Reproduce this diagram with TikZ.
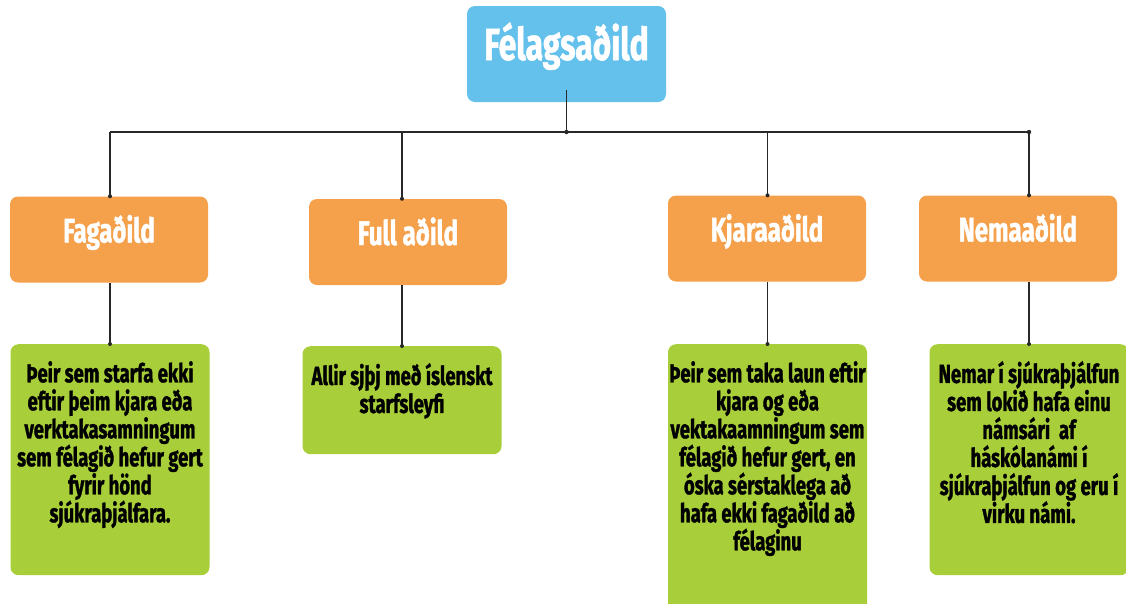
\documentclass[tikz,border=0pt]{standalone}
\usepackage{fontspec}
\setmainfont{Fira Sans}[FakeStretch=0.71, BoldFeatures={FakeBold=1.2}]
\usetikzlibrary{positioning}
\definecolor{topblue}{RGB}{100,193,236}
\definecolor{deptorange}{RGB}{245,160,75}
\definecolor{leafgreen}{RGB}{168,206,57}
\definecolor{linegray}{RGB}{40,40,40}
\tikzset{
  topbox/.style={fill=topblue, rounded corners=8pt, minimum width=199pt, minimum height=96pt,
    text height=28pt, text depth=16pt, text=white, font=\bfseries\fontsize{45}{48}\selectfont},
  deptbox/.style={fill=deptorange, rounded corners=8pt, minimum width=198pt, minimum height=86pt,
    text height=22pt, text depth=16pt, text=white, font=\bfseries\fontsize{34}{38}\selectfont},
  leafbox/.style={fill=leafgreen, rounded corners=8pt, minimum width=199pt, minimum height=#1,
    anchor=north, inner sep=0pt},
  leaftext/.style={align=center, inner sep=0pt, font=\bfseries\fontsize{26}{28}\selectfont},
  branch/.style={draw=linegray, line width=1.2pt},
}
\begin{document}
\begin{tikzpicture}[x=1pt,y=-1pt]
\useasboundingbox (0,0) rectangle (1126,603);
% top and departments
\node[topbox] (top) at (566.5,54) {Félagsaðild};
\node[deptbox] (fag) at (109,239.5) {Fagaðild};
\node[deptbox] (full) at (408,242) {Full aðild};
\node[deptbox] (kjara) at (767,238.5) {Kjaraaðild};
\node[deptbox] (nema) at (1018,238.5) {Nemaaðild};
% green boxes
\node[leafbox=231pt] (fagleaf) at (110,344) {};
\node[leafbox=108pt] (fullleaf) at (402,346) {};
\node[leafbox=270pt] (kjaraleaf) at (767.5,344) {};
\node[leafbox=231pt] (nemaleaf) at (1029,344) {};
\node[leaftext, below=17pt of fagleaf.north] (fagtext) {Þeir sem starfa ekki\\ eftir þeim kjara eða\\ verktakasamningum\\ sem félagið hefur gert\\ fyrir hönd\\ sjúkraþjálfara.};
\node[leaftext, below=17pt of fullleaf.north] (fulltext) {Allir sjþj með íslenskt\\ starfsleyfi};
\node[leaftext, below=17pt of kjaraleaf.north] (kjaratext) {Þeir sem taka laun eftir\\ kjara og eða\\ vektakaamningum sem\\ félagið hefur gert, en\\ óska sérstaklega að\\ hafa ekki fagaðild að\\ félaginu};
\node[leaftext, below=17pt of nemaleaf.north] (nematext) {Nemar í sjúkraþjálfun\\ sem lokið hafa einu\\ námsári \ af\\ háskólanámi í\\ sjúkraþjálfun og eru í\\ virku námi.};
% connectors
\coordinate (bar) at (566.5,132);
\draw[branch] ([yshift=12pt]top.south) -- (top.south |- bar);
\draw[draw=linegray, line width=2pt] (fagleaf.north |- bar) -- (nemaleaf.north |- bar);
\fill[linegray] (top.south |- bar) circle (2.2pt);
\fill[linegray] (nemaleaf.north |- bar) circle (2.2pt);
\foreach \dept/\leafnode in {fag/fagleaf, full/fullleaf, kjara/kjaraleaf, nema/nemaleaf} {
  \draw[branch] (\leafnode.north |- bar) -- (\leafnode.north |- \dept.north);
  \fill[linegray] (\leafnode.north |- \dept.north) circle (2pt);
  \draw[branch] (\leafnode.north |- \dept.south) -- (\leafnode.north);
  \fill[linegray] (\leafnode.north) circle (2pt);
}
\end{tikzpicture}
\end{document}
